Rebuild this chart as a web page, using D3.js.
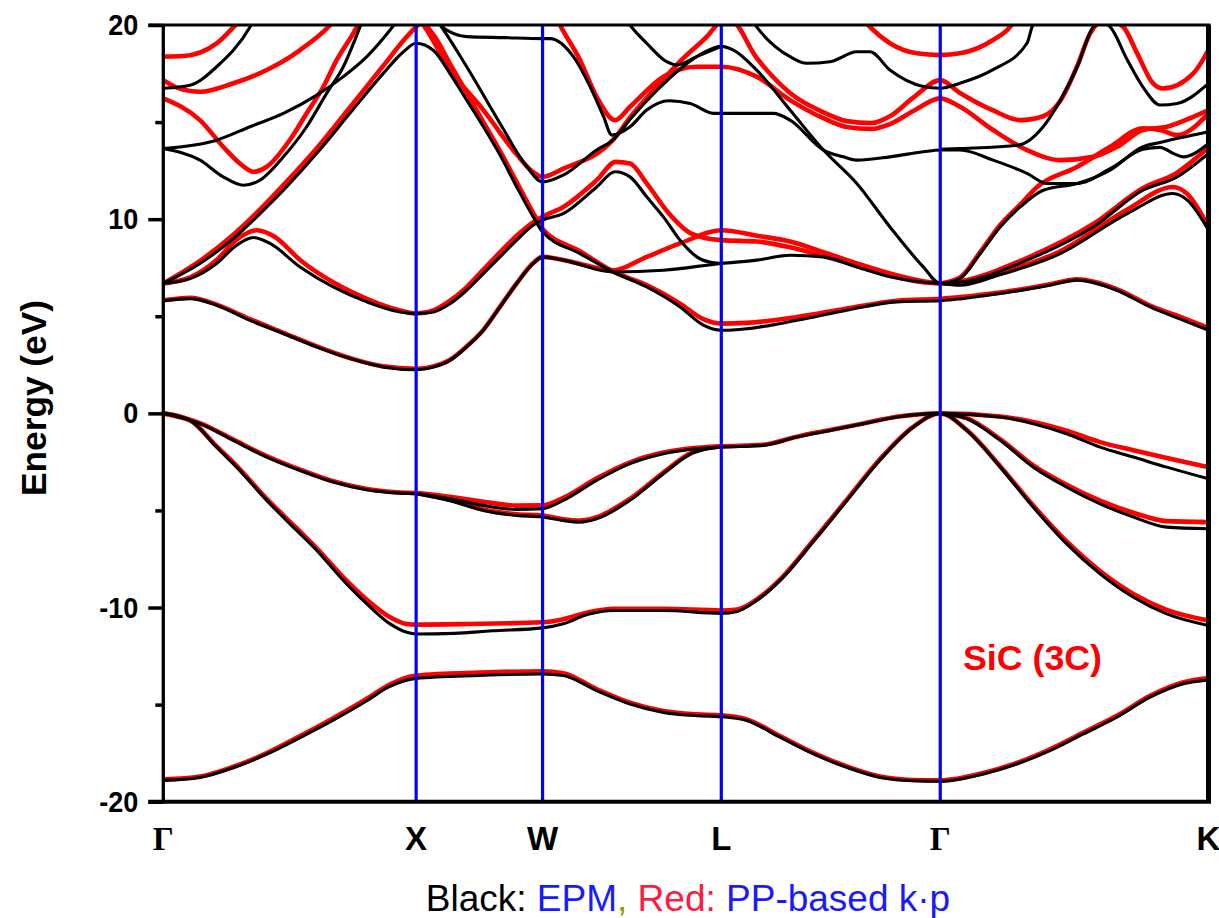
<!DOCTYPE html>
<html><head><meta charset="utf-8">
<script src="https://cdn.jsdelivr.net/npm/d3@7"></script>
<style>
html,body{margin:0;padding:0;background:#fff;}
svg{display:block;}
</style></head>
<body>
<svg id="chart" width="1219" height="918"></svg>
<script>
// ---------- DATA ----------
// high-symmetry points along the path (units of 2π/a)
const symK = [0, 1, 1.5, 2.207, 3.073, 4.134];
const symLabels = ["Γ", "X", "W", "L", "Γ", "K"];
const yTicks = [-20, -15, -10, -5, 0, 5, 10, 15, 20];
const yTickLabels = ["-20", "", "-10", "", "0", "", "10", "", "20"];

// Black: EPM bands, points [k, E(eV)]
const epmV1 = [[0,-18.9],[0.145,-18.75],[0.277,-18.25],[0.409,-17.55],[0.541,-16.7],[0.672,-15.8],[0.805,-14.8],[0.89,-14.1],[1,-13.65],[1.25,-13.5],[1.5,-13.42],[1.582,-13.5],[1.714,-14.28],[1.846,-14.97],[1.978,-15.4],[2.11,-15.57],[2.207,-15.62],[2.308,-15.82],[2.439,-16.68],[2.571,-17.54],[2.703,-18.23],[2.835,-18.75],[2.967,-18.92],[3.073,-18.95],[3.244,-18.57],[3.376,-18.06],[3.507,-17.37],[3.639,-16.51],[3.771,-15.65],[3.903,-14.62],[4.035,-13.93],[4.134,-13.73]];
const epmV2 = [[0,0],[0.106,-0.36],[0.211,-1.74],[0.29,-2.77],[0.409,-4.48],[0.514,-5.86],[0.607,-7.06],[0.712,-8.6],[0.805,-9.81],[0.897,-10.84],[0.963,-11.27],[1,-11.36],[1.15,-11.33],[1.3,-11.2],[1.5,-11.05],[1.582,-10.84],[1.68,-10.35],[1.78,-10.15],[1.978,-10.15],[2.207,-10.3],[2.27,-10.2],[2.34,-9.7],[2.44,-8.6],[2.571,-6.6],[2.703,-4.5],[2.835,-2.4],[2.967,-0.7],[3.073,0],[3.178,-0.88],[3.31,-2.77],[3.441,-4.83],[3.573,-6.72],[3.705,-8.26],[3.837,-9.47],[3.969,-10.33],[4.134,-10.93]];
const epmV3a = [[0,0],[0.145,-0.53],[0.277,-1.39],[0.409,-2.25],[0.541,-2.94],[0.672,-3.54],[0.805,-3.93],[0.936,-4.11],[1,-4.14],[1.134,-4.4],[1.266,-4.74],[1.398,-4.95],[1.5,-4.91],[1.582,-4.48],[1.714,-3.45],[1.846,-2.59],[1.978,-2.08],[2.11,-1.82],[2.207,-1.74],[2.373,-1.65],[2.506,-1.22],[2.637,-0.88],[2.769,-0.53],[2.901,-0.19],[3.073,0],[3.31,-0.19],[3.441,-0.53],[3.573,-1.05],[3.705,-1.74],[3.837,-2.25],[3.969,-2.77],[4.134,-3.37]];
const epmV3bXL = [[1,-4.14],[1.134,-4.5],[1.266,-5.0],[1.398,-5.26],[1.5,-5.34],[1.582,-5.52],[1.648,-5.6],[1.714,-5.43],[1.846,-4.48],[1.978,-3.11],[2.088,-2.08],[2.154,-1.82],[2.207,-1.74]];
const epmV3bGK = [[3.073,0],[3.178,-0.27],[3.31,-1.39],[3.441,-2.77],[3.573,-3.8],[3.705,-4.66],[3.837,-5.34],[3.969,-5.86],[4.134,-5.94]];
const epmC1 = [[0,5.8],[0.106,5.91],[0.211,5.57],[0.343,4.79],[0.475,4.11],[0.607,3.42],[0.738,2.82],[0.87,2.39],[1,2.25],[1.068,2.39],[1.134,2.73],[1.2,3.42],[1.266,4.28],[1.332,5.48],[1.398,6.69],[1.464,7.72],[1.5,8.06],[1.582,7.89],[1.78,7.28],[1.978,7.37],[2.207,7.72],[2.347,7.89],[2.479,8.14],[2.611,8.06],[2.743,7.54],[2.874,7.03],[3.006,6.75],[3.073,6.69]];
const epmC2 = [[0,6.69],[0.106,6.94],[0.211,7.72],[0.29,8.66],[0.356,9.06],[0.422,8.75],[0.541,7.54],[0.672,6.51],[0.805,5.74],[0.936,5.22],[1,5.14],[1.068,5.22],[1.134,5.65],[1.2,6.34],[1.266,7.2],[1.332,8.06],[1.398,8.92],[1.464,9.7],[1.5,9.95],[1.582,10.29],[1.714,11.66],[1.787,12.44],[1.846,12.18],[1.912,11.15],[1.978,10.12],[2.044,8.92],[2.11,8.06],[2.176,7.75],[2.207,7.72]];
const epmC3 = [[0,6.69],[0.145,7.72],[0.277,9.0],[0.383,10.29],[0.475,11.49],[0.607,13.39],[0.738,15.45],[0.87,17.51],[0.95,18.62],[1,19.06],[1.068,18.7],[1.134,17.5],[1.2,16.13],[1.266,14.76],[1.332,13.3],[1.398,11.66],[1.464,10.1],[1.5,9.35],[1.648,8.23],[1.78,7.28],[1.912,6.51],[2.044,5.48],[2.136,4.54],[2.207,4.28],[2.308,4.36],[2.506,4.79],[2.703,5.31],[2.901,5.74],[3.073,5.8],[3.31,6.17],[3.507,6.6],[3.613,6.86],[3.771,6.34],[3.903,5.48],[4.035,4.79],[4.134,4.28]];
const epmA = [[1.06,20.6],[1.095,20.0],[1.2,17.85],[1.332,14.93],[1.438,12.7],[1.5,11.92],[1.582,12.27],[1.714,13.56],[1.78,14.1],[1.85,15.2],[1.95,16.6],[2.05,17.8],[2.14,18.6],[2.207,18.9],[2.255,18.71],[2.347,17.68],[2.479,15.62],[2.611,13.56],[2.743,11.84],[2.874,9.6],[3.006,7.54],[3.073,6.69],[3.151,6.94],[3.231,8.23],[3.31,9.6],[3.389,10.63],[3.48,11.49],[3.615,11.84],[3.745,12.53],[3.875,13.73],[3.942,13.95],[4.134,14.5]];
const epmFlat = [[1.06,20.6],[1.095,20.0],[1.15,19.55],[1.2,19.4],[1.35,19.35],[1.5,19.3],[1.53,19.3],[1.622,18.37],[1.688,16.83],[1.741,15.29],[1.774,14.33],[1.846,14.76],[1.912,15.62],[2.0,16.1],[2.084,15.96],[2.176,15.45],[2.207,15.45],[2.413,15.45],[2.479,15.1],[2.611,13.56],[2.69,13.21],[2.743,13.04],[2.874,13.21],[3.006,13.47],[3.073,13.56],[3.151,13.56],[3.282,13.04],[3.416,12.36],[3.496,11.84],[3.615,11.84],[3.745,12.6],[3.875,13.6],[3.942,13.7],[3.994,13.39],[4.034,13.21],[4.134,13.9]];
const epmTopWL = [[1.83,20.3],[1.846,20],[1.912,19.06],[1.991,18.11],[2.03,17.94],[2.11,18.37],[2.207,18.9]];
const epmGammaTop = [[2.32,20.4],[2.347,19.9],[2.479,18.37],[2.545,18.03],[2.637,18.11],[2.743,18.62],[2.795,18.62],[2.874,17.68],[3.006,16.83],[3.073,16.74],[3.151,17.0],[3.282,17.7],[3.416,19.06],[3.436,19.9],[3.45,20.3]];
const epmTopGX1 = [[0,16.74],[0.106,16.9],[0.211,17.85],[0.343,19.9],[0.36,20.3]];
const epmTopGX2 = [[0,13.64],[0.145,13.04],[0.237,12.18],[0.317,11.75],[0.383,12.01],[0.475,13.21],[0.567,14.76],[0.646,16.48],[0.712,17.85],[0.778,19.9],[0.79,20.3]];
const epmTopGX3 = [[0,13.64],[0.211,14.07],[0.343,14.76],[0.475,15.45],[0.607,16.39],[0.712,17.34],[0.805,18.37],[0.897,19.74],[0.93,20.3]];
const epmTopGK = [[3.073,13.6],[3.151,13.64],[3.381,13.81],[3.48,14.76],[3.548,16.13],[3.615,17.85],[3.678,19.9],[3.71,20.15],[3.745,19.9],[3.813,18.2],[3.875,16.8],[3.942,15.88],[4.01,15.96],[4.134,16.99]];
const epmGK6 = [[3.073,6.69],[3.151,6.75],[3.416,7.89],[3.678,9.6],[3.875,11.49],[4.01,12.18],[4.134,13.39]];
const epmGK7 = [[3.073,6.69],[3.151,6.6],[3.3,7.1],[3.548,8.23],[3.813,10.29],[3.994,11.32],[4.05,10.98],[4.134,9.43]];

// Red: PP-based k·p bands
const kpV1 = [[0,-18.85],[0.145,-18.7],[0.277,-18.2],[0.409,-17.5],[0.541,-16.62],[0.672,-15.7],[0.805,-14.7],[0.89,-14.0],[1,-13.5],[1.25,-13.35],[1.5,-13.28],[1.582,-13.38],[1.714,-14.2],[1.846,-14.9],[1.978,-15.33],[2.11,-15.5],[2.207,-15.55],[2.308,-15.76],[2.439,-16.62],[2.571,-17.48],[2.703,-18.18],[2.835,-18.7],[2.967,-18.88],[3.073,-18.9],[3.244,-18.52],[3.376,-18.0],[3.507,-17.3],[3.639,-16.44],[3.771,-15.58],[3.903,-14.55],[4.035,-13.85],[4.134,-13.63]];
const kpV2 = [[0,0],[0.106,-0.36],[0.211,-1.7],[0.29,-2.7],[0.409,-4.4],[0.514,-5.75],[0.607,-6.95],[0.712,-8.45],[0.805,-9.6],[0.897,-10.5],[0.963,-10.85],[1,-10.88],[1.2,-10.85],[1.5,-10.76],[1.582,-10.6],[1.68,-10.25],[1.78,-10.07],[1.978,-10.07],[2.207,-10.15],[2.27,-10.1],[2.34,-9.65],[2.44,-8.55],[2.571,-6.55],[2.703,-4.45],[2.835,-2.35],[2.967,-0.68],[3.073,0],[3.178,-0.86],[3.31,-2.72],[3.441,-4.75],[3.573,-6.6],[3.705,-8.12],[3.837,-9.3],[3.969,-10.12],[4.134,-10.67]];
const kpV3a = [[0,0],[0.145,-0.5],[0.277,-1.35],[0.409,-2.2],[0.541,-2.9],[0.672,-3.5],[0.805,-3.9],[0.936,-4.08],[1,-4.1],[1.134,-4.3],[1.266,-4.55],[1.398,-4.75],[1.5,-4.74],[1.582,-4.35],[1.714,-3.35],[1.846,-2.52],[1.978,-2.02],[2.11,-1.78],[2.207,-1.7],[2.373,-1.62],[2.506,-1.2],[2.637,-0.86],[2.769,-0.52],[2.901,-0.18],[3.073,0],[3.31,-0.16],[3.441,-0.45],[3.573,-0.9],[3.705,-1.48],[3.837,-1.9],[3.969,-2.3],[4.134,-2.77]];
const kpV3bXL = [[1,-4.1],[1.134,-4.45],[1.266,-4.95],[1.398,-5.2],[1.5,-5.26],[1.582,-5.45],[1.648,-5.52],[1.714,-5.35],[1.846,-4.4],[1.978,-3.05],[2.088,-2.03],[2.154,-1.78],[2.207,-1.7]];
const kpV3bGK = [[3.073,0],[3.178,-0.25],[3.31,-1.33],[3.441,-2.68],[3.573,-3.68],[3.705,-4.5],[3.837,-5.12],[3.969,-5.55],[4.134,-5.6]];
const kpC1 = [[0,5.82],[0.106,5.95],[0.211,5.6],[0.343,4.85],[0.475,4.15],[0.607,3.45],[0.738,2.85],[0.87,2.42],[1,2.3],[1.068,2.42],[1.134,2.76],[1.2,3.45],[1.266,4.3],[1.332,5.5],[1.398,6.7],[1.464,7.75],[1.5,8.06],[1.582,7.9],[1.78,7.37],[1.912,8.06],[2.044,8.75],[2.207,9.43],[2.347,9.15],[2.479,8.85],[2.611,8.3],[2.743,7.72],[2.874,7.2],[3.006,6.8],[3.073,6.69]];
const kpC2 = [[0,6.69],[0.106,7.0],[0.211,7.9],[0.29,8.95],[0.37,9.43],[0.44,9.1],[0.541,7.9],[0.672,6.75],[0.805,5.9],[0.936,5.3],[1,5.14],[1.068,5.3],[1.134,5.8],[1.2,6.5],[1.266,7.4],[1.332,8.3],[1.398,9.15],[1.464,9.85],[1.5,10.12],[1.582,10.63],[1.714,12.01],[1.79,12.95],[1.846,12.87],[1.912,11.84],[2.0,10.29],[2.088,9.26],[2.207,8.92],[2.347,8.85],[2.479,8.55],[2.611,8.1],[2.743,7.6],[2.874,7.1],[3.006,6.75],[3.073,6.69]];
const kpC3 = [[0,6.69],[0.145,7.85],[0.277,9.2],[0.383,10.5],[0.475,11.75],[0.607,13.65],[0.738,15.75],[0.87,17.9],[0.95,19.2],[1,19.9],[1.02,20.1],[1.068,19.5],[1.134,18.0],[1.2,16.5],[1.266,15.0],[1.332,13.5],[1.398,11.9],[1.464,10.3],[1.5,9.5],[1.648,8.35],[1.78,7.3],[1.912,6.6],[2.044,5.65],[2.136,4.85],[2.207,4.62],[2.308,4.66],[2.506,4.96],[2.703,5.4],[2.901,5.8],[3.073,5.9],[3.31,6.22],[3.507,6.65],[3.613,6.9],[3.771,6.4],[3.903,5.55],[4.035,4.9],[4.134,4.4]];
const kpA = [[1.0,20.5],[1.029,20.0],[1.134,17.7],[1.266,15.62],[1.4,13.3],[1.46,12.45],[1.5,12.18],[1.582,12.6],[1.78,14.1],[1.85,15.3],[1.95,16.8],[2.05,18.2],[2.15,19.4],[2.207,20.2],[2.24,20.3],[2.347,18.3],[2.479,16.5],[2.611,15.5],[2.703,15.05],[2.8,14.95],[2.874,15.3],[2.97,16.3],[3.073,17.16],[3.151,16.5],[3.282,15.6],[3.389,15.1],[3.48,15.3],[3.548,16.1],[3.615,17.9],[3.666,19.57],[3.73,20.3],[3.797,19.9],[3.852,18.54],[3.915,16.99],[3.954,16.73],[4.074,17.51],[4.134,18.71]];
const kpTopWL = [[1.55,20.5],[1.569,20.0],[1.648,18.2],[1.714,16.3],[1.787,15.1],[1.846,15.79],[1.978,17.34],[2.11,17.85],[2.207,17.85],[2.347,17.34],[2.479,16.13],[2.611,15.2],[2.703,14.75],[2.8,14.65],[2.874,14.9],[2.97,15.6],[3.073,16.22],[3.151,15.79],[3.282,14.59],[3.416,13.56],[3.548,13.04],[3.678,13.21],[3.773,13.73],[3.875,14.59],[3.97,14.76],[4.074,15.27],[4.134,15.62]];
const kpTopLG = [[2.76,20.4],[2.795,19.9],[2.874,19.06],[2.98,18.54],[3.073,18.45],[3.151,18.54],[3.282,19.23],[3.349,19.9],[3.37,20.3]];
const kpTopGX1 = [[0,18.37],[0.08,18.4],[0.211,19.05],[0.29,20.05],[0.31,20.3]];
const kpTopGX2 = [[0,17.16],[0.06,16.75],[0.145,16.56],[0.277,17.0],[0.409,17.68],[0.541,18.71],[0.66,20],[0.68,20.3]];
const kpTopGX3 = [[0,16.22],[0.145,15.1],[0.237,13.73],[0.303,12.87],[0.356,12.44],[0.409,12.7],[0.5,14.07],[0.567,15.45],[0.633,16.82],[0.686,18.2],[0.765,19.9],[0.78,20.3]];
const kpGK5 = [[3.073,6.69],[3.151,7.0],[3.231,8.3],[3.31,9.7],[3.389,10.75],[3.456,11.66],[3.615,12.7],[3.745,13.73],[3.875,14.68],[3.942,14.59],[4.01,14.33],[4.134,15.45]];
const kpGK6 = [[3.073,6.69],[3.151,6.8],[3.416,8.0],[3.678,9.75],[3.875,11.6],[4.01,12.4],[4.134,13.7]];
const kpGK7 = [[3.073,6.69],[3.151,6.7],[3.3,7.2],[3.548,8.35],[3.813,10.5],[3.994,11.66],[4.05,11.3],[4.134,9.6]];

const epmBands = [epmV1, epmV2, epmV3a, epmV3bXL, epmV3bGK, epmC1, epmC2, epmC3, epmA, epmFlat, epmTopWL, epmGammaTop, epmTopGX1, epmTopGX2, epmTopGX3, epmTopGK, epmGK6, epmGK7];
const kpBands = [kpV1, kpV2, kpV3a, kpV3bXL, kpV3bGK, kpC1, kpC2, kpC3, kpA, kpTopWL, kpTopLG, kpTopGX1, kpTopGX2, kpTopGX3, kpGK5, kpGK6, kpGK7];

// ---------- DRAW ----------
const svg = d3.select("#chart");
const x = d3.scaleLinear().domain([0, 4.134]).range([163.3, 1208.5]);
const y = d3.scaleLinear().domain([-20, 20]).range([801.7, 25]);

svg.append("defs").append("clipPath").attr("id", "plotclip")
  .append("rect").attr("x", x(0)).attr("y", y(20))
  .attr("width", x(4.134) - x(0)).attr("height", y(-20) - y(20));

const line = d3.line().x(d => x(d[0])).y(d => y(d[1])).curve(d3.curveMonotoneX);
const plot = svg.append("g").attr("clip-path", "url(#plotclip)");

plot.append("g").selectAll("path").data(kpBands).join("path")
  .attr("d", line).attr("fill", "none").attr("stroke", "#ff0000")
  .attr("stroke-width", 4.6).attr("stroke-linejoin", "round");
plot.append("g").selectAll("path").data(epmBands).join("path")
  .attr("d", line).attr("fill", "none").attr("stroke", "#000")
  .attr("stroke-width", 3.1).attr("stroke-linejoin", "round");

// blue vertical lines at inner symmetry points
svg.append("g").selectAll("line").data(symK.slice(1, 5)).join("line")
  .attr("x1", d => x(d)).attr("x2", d => x(d))
  .attr("y1", y(20)).attr("y2", y(-20))
  .attr("stroke", "#0000ff").attr("stroke-width", 3.2);

// frame
const fr = svg.append("g").attr("stroke", "#000");
fr.append("line").attr("x1", x(0) - 15).attr("x2", x(4.134) + 2).attr("y1", y(20)).attr("y2", y(20)).attr("stroke-width", 3);
fr.append("line").attr("x1", x(0) - 15).attr("x2", x(4.134) + 2.5).attr("y1", y(-20)).attr("y2", y(-20)).attr("stroke-width", 4);
fr.append("line").attr("x1", x(4.134)).attr("x2", x(4.134)).attr("y1", y(20)).attr("y2", y(-20)).attr("stroke-width", 5);

// y axis
const yAxis = d3.axisLeft(y).tickValues(yTicks).tickSize(15).tickPadding(10)
  .tickFormat((d, i) => yTickLabels[i]);
const ya = svg.append("g").attr("transform", `translate(${x(0)},0)`).call(yAxis);
ya.select(".domain").attr("stroke-width", 3.3).attr("d", `M0,${y(20)}V${y(-20)}`);
ya.selectAll(".tick line").attr("stroke-width", 3.5)
  .attr("x2", (d, i) => yTickLabels[i] === "" ? -8 : -15);
ya.selectAll(".tick text")
  .attr("font-family", "'Liberation Sans', Arial, sans-serif")
  .attr("font-weight", "bold").attr("font-size", 30).attr("fill", "#000")
  .attr("x", -25)
  .each(function () {
    const w = this.getComputedTextLength();
    if (w > 0) d3.select(this).attr("textLength", w * 0.9).attr("lengthAdjust", "spacingAndGlyphs");
  });

// y title
svg.append("text").attr("transform", "translate(46,398) rotate(-90)")
  .attr("text-anchor", "middle")
  .attr("font-family", "'Liberation Sans', Arial, sans-serif")
  .attr("font-weight", "bold").attr("font-size", 35)
  .attr("textLength", 196).attr("lengthAdjust", "spacingAndGlyphs")
  .text("Energy (eV)");

// x labels
svg.append("g").selectAll("text").data(symK).join("text")
  .attr("x", d => x(d)).attr("y", 850)
  .attr("text-anchor", "middle")
  .attr("font-family", (d, i) => symLabels[i] === "Γ" ? "'Liberation Serif', 'Times New Roman', serif" : "'Liberation Sans', Arial, sans-serif")
  .attr("font-weight", "bold").attr("font-size", 33)
  .text((d, i) => symLabels[i]);

// material label
svg.append("text").attr("x", 963).attr("y", 670)
  .attr("font-family", "'Liberation Sans', Arial, sans-serif")
  .attr("font-weight", "bold").attr("font-size", 35).attr("fill", "#ff0000")
  .attr("textLength", 139).attr("lengthAdjust", "spacingAndGlyphs")
  .text("SiC (3C)");

// caption
const cap = svg.append("text").attr("x", 688).attr("y", 911).attr("text-anchor", "middle")
  .attr("font-family", "'Liberation Sans', Arial, sans-serif").attr("font-size", 37);
cap.append("tspan").attr("fill", "#000").text("Black: ");
cap.append("tspan").attr("fill", "#1a1aff").text("EPM");
cap.append("tspan").attr("fill", "#999900").text(",");
cap.append("tspan").attr("fill", "#ff1a40").text(" Red: ");
cap.append("tspan").attr("fill", "#1a1aff").text("PP-based k·p");
</script>
</body></html>
